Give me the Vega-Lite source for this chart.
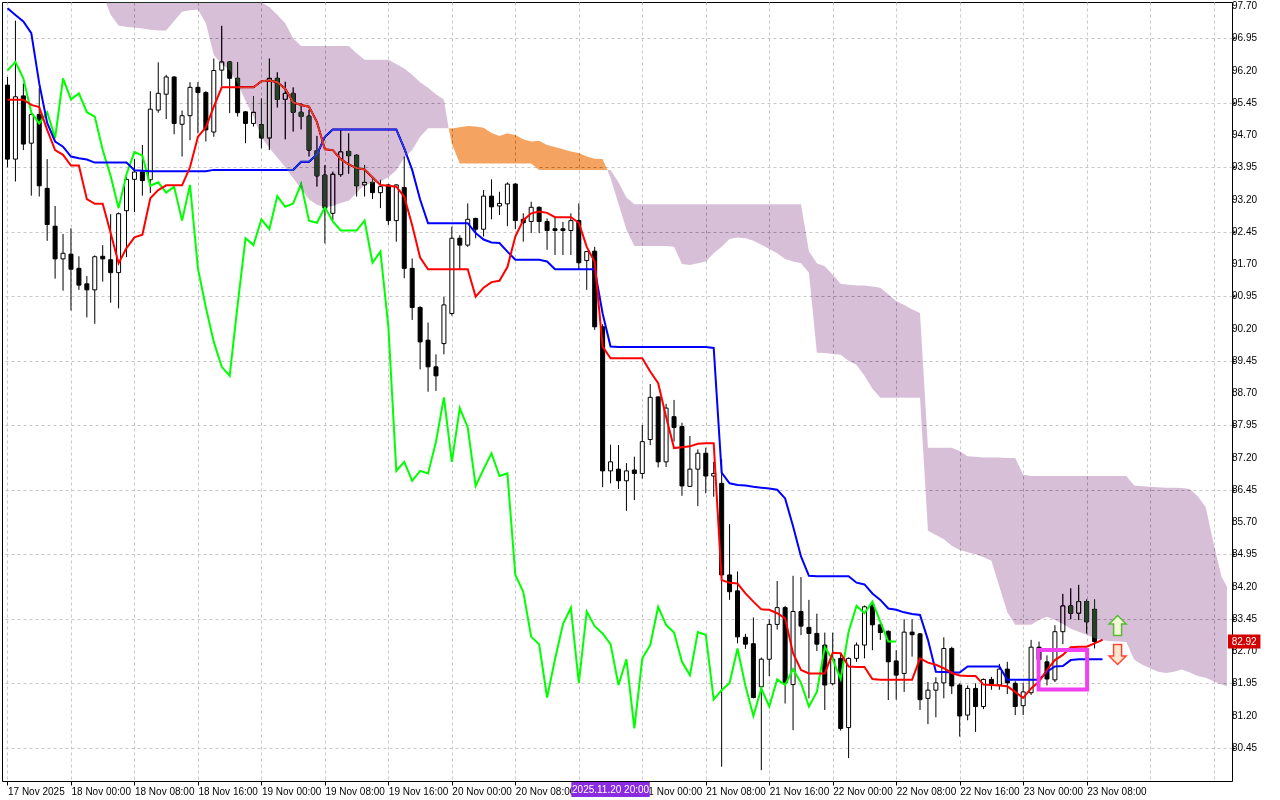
{
  "$schema": "https://vega.github.io/schema/vega-lite/v6.json",
  "width": 1230,
  "height": 779,
  "autosize": {"type": "none"},
  "padding": {"left": 2, "top": 2, "right": 48, "bottom": 19},
  "background": "#ffffff",
  "config": {
    "view": {"stroke": "#000000", "strokeWidth": 1, "fill": "#ffffff"},
    "font": "Liberation Sans",
    "axis": {"labelFont": "Liberation Sans", "labelFontSize": 10, "labelColor": "#000000", "title": null, "domain": false, "gridColor": "#c8c8c8", "gridDash": [3, 3], "gridWidth": 1, "tickColor": "#000000", "labelOverlap": false, "labelBound": false, "labelFlush": false}
  },
  "datasets": {
    "ylabels": [
      {"p":80.45},{"p":81.2},{"p":81.95},{"p":82.7},{"p":83.45},{"p":84.2},{"p":84.95},{"p":85.7},
      {"p":86.45},{"p":87.2},{"p":87.95},{"p":88.7},{"p":89.45},{"p":90.2},{"p":90.95},{"p":91.7},
      {"p":92.45},{"p":93.2},{"p":93.95},{"p":94.7},{"p":95.45},{"p":96.2},{"p":96.95},{"p":97.7}
    ],
    "candles": [
      {"k":0,"o":95.86,"h":96.05,"l":93.95,"c":94.14},
      {"k":1,"o":94.14,"h":97.36,"l":93.62,"c":95.59},
      {"k":2,"o":95.61,"h":95.90,"l":94.35,"c":94.49},
      {"k":3,"o":94.51,"h":95.20,"l":93.29,"c":95.18},
      {"k":4,"o":95.18,"h":95.79,"l":93.27,"c":93.52},
      {"k":5,"o":93.46,"h":94.14,"l":92.24,"c":92.62},
      {"k":6,"o":92.58,"h":93.05,"l":91.36,"c":91.82},
      {"k":7,"o":91.82,"h":92.40,"l":91.08,"c":91.95},
      {"k":8,"o":91.93,"h":92.53,"l":90.62,"c":91.58},
      {"k":9,"o":91.60,"h":91.88,"l":91.10,"c":91.21},
      {"k":10,"o":91.24,"h":91.42,"l":90.46,"c":91.10},
      {"k":11,"o":91.10,"h":91.90,"l":90.31,"c":91.87},
      {"k":12,"o":91.88,"h":92.14,"l":91.29,"c":91.82},
      {"k":13,"o":91.80,"h":92.86,"l":90.80,"c":91.50},
      {"k":14,"o":91.50,"h":92.90,"l":90.67,"c":92.87},
      {"k":15,"o":92.94,"h":93.75,"l":91.86,"c":93.67},
      {"k":16,"o":93.67,"h":94.14,"l":92.91,"c":93.84},
      {"k":17,"o":93.84,"h":94.47,"l":93.29,"c":93.64},
      {"k":18,"o":93.66,"h":95.72,"l":93.35,"c":95.30},
      {"k":19,"o":95.28,"h":96.39,"l":95.22,"c":95.67},
      {"k":20,"o":95.65,"h":96.10,"l":95.07,"c":96.05},
      {"k":21,"o":96.05,"h":96.07,"l":94.72,"c":94.97},
      {"k":22,"o":94.95,"h":95.27,"l":94.20,"c":95.15},
      {"k":23,"o":95.15,"h":95.93,"l":94.58,"c":95.81},
      {"k":24,"o":95.81,"h":95.93,"l":94.74,"c":95.69},
      {"k":25,"o":95.69,"h":95.72,"l":94.55,"c":94.82},
      {"k":26,"o":94.77,"h":96.48,"l":94.66,"c":96.20},
      {"k":27,"o":96.21,"h":97.24,"l":95.83,"c":96.40},
      {"k":28,"o":96.40,"h":96.41,"l":95.21,"c":96.02},
      {"k":29,"o":96.02,"h":96.40,"l":95.13,"c":95.22},
      {"k":30,"o":95.24,"h":95.26,"l":94.51,"c":94.97},
      {"k":31,"o":94.97,"h":95.60,"l":94.90,"c":95.23},
      {"k":32,"o":94.94,"h":95.55,"l":94.39,"c":94.63},
      {"k":33,"o":94.63,"h":96.48,"l":94.35,"c":96.02},
      {"k":34,"o":96.02,"h":96.16,"l":95.34,"c":95.53},
      {"k":35,"o":95.53,"h":95.94,"l":94.60,"c":95.67},
      {"k":36,"o":95.67,"h":95.81,"l":94.78,"c":95.23},
      {"k":37,"o":95.23,"h":95.44,"l":94.83,"c":95.13},
      {"k":38,"o":95.14,"h":95.29,"l":94.20,"c":94.35},
      {"k":39,"o":94.34,"h":94.68,"l":93.50,"c":93.75},
      {"k":40,"o":93.77,"h":94.00,"l":92.18,"c":93.00},
      {"k":41,"o":92.88,"h":93.85,"l":92.72,"c":93.79},
      {"k":42,"o":93.78,"h":94.82,"l":93.73,"c":94.31},
      {"k":43,"o":94.32,"h":94.74,"l":93.80,"c":94.22},
      {"k":44,"o":94.23,"h":94.25,"l":93.27,"c":93.52},
      {"k":45,"o":93.54,"h":94.00,"l":93.27,"c":93.60},
      {"k":46,"o":93.60,"h":93.69,"l":93.21,"c":93.36},
      {"k":47,"o":93.36,"h":93.66,"l":93.00,"c":93.50},
      {"k":48,"o":93.54,"h":93.56,"l":92.61,"c":92.71},
      {"k":49,"o":92.71,"h":93.56,"l":92.22,"c":93.54},
      {"k":50,"o":93.48,"h":94.20,"l":91.37,"c":91.60},
      {"k":51,"o":91.60,"h":91.83,"l":90.40,"c":90.69},
      {"k":52,"o":90.69,"h":90.72,"l":89.25,"c":89.89},
      {"k":53,"o":89.93,"h":90.34,"l":88.73,"c":89.31},
      {"k":54,"o":89.31,"h":89.60,"l":88.75,"c":89.10},
      {"k":55,"o":89.85,"h":90.94,"l":89.60,"c":90.75},
      {"k":56,"o":90.55,"h":92.57,"l":90.50,"c":92.30},
      {"k":57,"o":92.30,"h":92.37,"l":91.56,"c":92.14},
      {"k":58,"o":92.14,"h":93.11,"l":92.10,"c":92.74},
      {"k":59,"o":92.76,"h":92.78,"l":92.30,"c":92.51},
      {"k":60,"o":92.51,"h":93.42,"l":92.34,"c":93.28},
      {"k":61,"o":93.28,"h":93.67,"l":92.74,"c":93.03},
      {"k":62,"o":93.05,"h":93.38,"l":92.84,"c":93.11},
      {"k":63,"o":93.10,"h":93.60,"l":92.58,"c":93.56},
      {"k":64,"o":93.56,"h":93.58,"l":92.51,"c":92.71},
      {"k":65,"o":92.74,"h":92.88,"l":92.22,"c":92.66},
      {"k":66,"o":92.69,"h":93.15,"l":92.42,"c":93.02},
      {"k":67,"o":93.02,"h":93.04,"l":92.42,"c":92.69},
      {"k":68,"o":92.69,"h":92.76,"l":92.03,"c":92.48},
      {"k":69,"o":92.52,"h":92.80,"l":91.91,"c":92.48},
      {"k":70,"o":92.52,"h":92.68,"l":91.91,"c":92.48},
      {"k":71,"o":92.48,"h":92.88,"l":91.91,"c":92.71},
      {"k":72,"o":92.71,"h":93.11,"l":91.56,"c":91.73},
      {"k":73,"o":91.78,"h":92.00,"l":91.10,"c":91.99},
      {"k":74,"o":92.00,"h":92.10,"l":90.17,"c":90.24},
      {"k":75,"o":90.24,"h":90.30,"l":86.51,"c":86.89},
      {"k":76,"o":86.89,"h":87.50,"l":86.60,"c":87.10},
      {"k":77,"o":86.93,"h":87.49,"l":86.47,"c":86.66},
      {"k":78,"o":86.66,"h":87.07,"l":85.96,"c":86.89},
      {"k":79,"o":86.91,"h":87.22,"l":86.21,"c":86.83},
      {"k":80,"o":86.83,"h":87.96,"l":86.71,"c":87.57},
      {"k":81,"o":87.62,"h":88.91,"l":87.49,"c":88.60},
      {"k":82,"o":88.61,"h":88.62,"l":86.97,"c":87.10},
      {"k":83,"o":87.10,"h":88.45,"l":86.98,"c":88.35},
      {"k":84,"o":88.15,"h":88.54,"l":87.57,"c":87.90},
      {"k":85,"o":87.92,"h":88.01,"l":86.31,"c":86.54},
      {"k":86,"o":86.53,"h":87.70,"l":86.52,"c":86.93},
      {"k":87,"o":86.93,"h":87.39,"l":86.07,"c":87.30},
      {"k":88,"o":87.30,"h":87.43,"l":86.37,"c":86.77},
      {"k":89,"o":86.77,"h":87.10,"l":86.29,"c":86.83},
      {"k":90,"o":86.60,"h":87.16,"l":80.01,"c":84.47},
      {"k":91,"o":84.47,"h":85.65,"l":83.89,"c":84.08},
      {"k":92,"o":84.10,"h":84.55,"l":82.88,"c":83.03},
      {"k":93,"o":83.02,"h":83.10,"l":82.75,"c":82.86},
      {"k":94,"o":82.87,"h":83.48,"l":81.60,"c":81.62},
      {"k":95,"o":81.87,"h":82.55,"l":79.93,"c":82.51},
      {"k":96,"o":82.51,"h":83.44,"l":82.12,"c":83.32},
      {"k":97,"o":83.32,"h":84.33,"l":83.20,"c":83.71},
      {"k":98,"o":83.71,"h":83.75,"l":81.48,"c":81.96},
      {"k":99,"o":81.92,"h":84.45,"l":80.86,"c":83.62},
      {"k":100,"o":83.62,"h":84.42,"l":83.07,"c":83.28},
      {"k":101,"o":83.25,"h":83.89,"l":81.60,"c":83.11},
      {"k":102,"o":83.11,"h":83.57,"l":82.70,"c":82.86},
      {"k":103,"o":82.84,"h":83.13,"l":81.33,"c":81.91},
      {"k":104,"o":81.94,"h":83.13,"l":81.90,"c":82.51},
      {"k":105,"o":82.53,"h":82.65,"l":80.85,"c":80.90},
      {"k":106,"o":80.92,"h":82.55,"l":80.21,"c":82.53},
      {"k":107,"o":82.53,"h":82.90,"l":82.45,"c":82.84},
      {"k":108,"o":82.84,"h":83.76,"l":82.53,"c":83.73},
      {"k":109,"o":83.77,"h":83.85,"l":82.72,"c":83.31},
      {"k":110,"o":83.31,"h":83.35,"l":82.96,"c":83.13},
      {"k":111,"o":83.16,"h":83.18,"l":81.56,"c":82.45},
      {"k":112,"o":82.47,"h":82.72,"l":81.57,"c":82.14},
      {"k":113,"o":82.18,"h":83.44,"l":81.75,"c":83.14},
      {"k":114,"o":83.14,"h":83.44,"l":82.57,"c":83.08},
      {"k":115,"o":83.10,"h":83.12,"l":81.33,"c":81.57},
      {"k":116,"o":81.60,"h":81.98,"l":81.00,"c":81.79},
      {"k":117,"o":81.79,"h":82.09,"l":81.16,"c":81.96},
      {"k":118,"o":81.96,"h":83.02,"l":81.60,"c":82.76},
      {"k":119,"o":82.76,"h":82.80,"l":81.70,"c":81.89},
      {"k":120,"o":81.91,"h":81.95,"l":80.71,"c":81.19},
      {"k":121,"o":81.21,"h":81.90,"l":81.09,"c":81.83},
      {"k":122,"o":81.83,"h":81.95,"l":80.82,"c":81.41},
      {"k":123,"o":81.41,"h":82.06,"l":81.35,"c":82.04},
      {"k":124,"o":82.04,"h":82.10,"l":81.80,"c":81.91},
      {"k":125,"o":81.91,"h":82.40,"l":81.80,"c":82.28},
      {"k":126,"o":82.28,"h":82.45,"l":81.70,"c":81.96},
      {"k":127,"o":81.95,"h":82.00,"l":81.21,"c":81.41},
      {"k":128,"o":81.43,"h":81.96,"l":81.21,"c":81.75},
      {"k":129,"o":81.73,"h":82.96,"l":81.68,"c":82.79},
      {"k":130,"o":82.79,"h":82.92,"l":82.30,"c":82.50},
      {"k":131,"o":82.45,"h":82.60,"l":81.90,"c":82.05},
      {"k":132,"o":82.03,"h":83.30,"l":81.98,"c":83.15},
      {"k":133,"o":83.15,"h":84.03,"l":82.86,"c":83.75},
      {"k":134,"o":83.75,"h":84.16,"l":83.44,"c":83.58},
      {"k":135,"o":83.58,"h":84.24,"l":83.42,"c":83.85},
      {"k":136,"o":83.85,"h":83.90,"l":83.11,"c":83.38},
      {"k":137,"o":83.67,"h":83.90,"l":82.76,"c":82.92}
    ],
    "ichimoku": [
      {"k":0,"t":95.52,"kj":97.65,"ch":96.20},
      {"k":1,"t":95.52,"kj":97.49,"ch":96.40},
      {"k":2,"t":95.52,"kj":97.34,"ch":96.02},
      {"k":3,"t":95.40,"kj":97.07,"ch":95.22},
      {"k":4,"t":95.35,"kj":95.90,"ch":94.97},
      {"k":5,"t":94.82,"kj":94.98,"ch":95.23},
      {"k":6,"t":94.35,"kj":94.55,"ch":94.63},
      {"k":7,"t":94.24,"kj":94.43,"ch":96.02},
      {"k":8,"t":93.99,"kj":94.20,"ch":95.53},
      {"k":9,"t":93.99,"kj":94.16,"ch":95.67},
      {"k":10,"t":93.21,"kj":94.13,"ch":95.23},
      {"k":11,"t":93.10,"kj":94.06,"ch":95.13},
      {"k":12,"t":93.10,"kj":94.06,"ch":94.35},
      {"k":13,"t":92.42,"kj":94.06,"ch":93.75},
      {"k":14,"t":91.72,"kj":94.06,"ch":93.00},
      {"k":15,"t":92.07,"kj":94.06,"ch":93.79},
      {"k":16,"t":92.32,"kj":93.88,"ch":94.31},
      {"k":17,"t":92.38,"kj":93.87,"ch":94.22},
      {"k":18,"t":93.23,"kj":93.86,"ch":93.52},
      {"k":19,"t":93.42,"kj":93.86,"ch":93.60},
      {"k":20,"t":93.53,"kj":93.86,"ch":93.36},
      {"k":21,"t":93.53,"kj":93.86,"ch":93.50},
      {"k":22,"t":93.53,"kj":93.86,"ch":92.71},
      {"k":23,"t":93.95,"kj":93.86,"ch":93.54},
      {"k":24,"t":94.66,"kj":93.86,"ch":91.60},
      {"k":25,"t":94.88,"kj":93.86,"ch":90.69},
      {"k":26,"t":95.36,"kj":93.89,"ch":89.89},
      {"k":27,"t":95.81,"kj":93.89,"ch":89.31},
      {"k":28,"t":95.81,"kj":93.89,"ch":89.10},
      {"k":29,"t":95.81,"kj":93.89,"ch":90.75},
      {"k":30,"t":95.81,"kj":93.89,"ch":92.30},
      {"k":31,"t":95.81,"kj":93.89,"ch":92.14},
      {"k":32,"t":95.95,"kj":93.89,"ch":92.74},
      {"k":33,"t":95.97,"kj":93.89,"ch":92.51},
      {"k":34,"t":95.93,"kj":93.89,"ch":93.28},
      {"k":35,"t":95.78,"kj":93.89,"ch":93.03},
      {"k":36,"t":95.46,"kj":93.89,"ch":93.11},
      {"k":37,"t":95.40,"kj":94.08,"ch":93.56},
      {"k":38,"t":95.36,"kj":94.08,"ch":92.71},
      {"k":39,"t":95.00,"kj":94.25,"ch":92.66},
      {"k":40,"t":94.37,"kj":94.66,"ch":93.02},
      {"k":41,"t":94.35,"kj":94.83,"ch":92.69},
      {"k":42,"t":94.14,"kj":94.83,"ch":92.48},
      {"k":43,"t":94.02,"kj":94.83,"ch":92.48},
      {"k":44,"t":93.93,"kj":94.83,"ch":92.48},
      {"k":45,"t":93.90,"kj":94.83,"ch":92.71},
      {"k":46,"t":93.72,"kj":94.83,"ch":91.73},
      {"k":47,"t":93.54,"kj":94.83,"ch":91.99},
      {"k":48,"t":93.52,"kj":94.83,"ch":90.24},
      {"k":49,"t":93.50,"kj":94.83,"ch":86.89},
      {"k":50,"t":93.27,"kj":94.39,"ch":87.10},
      {"k":51,"t":92.60,"kj":93.89,"ch":86.66},
      {"k":52,"t":91.85,"kj":93.20,"ch":86.89},
      {"k":53,"t":91.58,"kj":92.65,"ch":86.83},
      {"k":54,"t":91.58,"kj":92.65,"ch":87.57},
      {"k":55,"t":91.58,"kj":92.65,"ch":88.60},
      {"k":56,"t":91.58,"kj":92.65,"ch":87.10},
      {"k":57,"t":91.58,"kj":92.65,"ch":88.35},
      {"k":58,"t":91.58,"kj":92.65,"ch":87.90},
      {"k":59,"t":90.94,"kj":92.42,"ch":86.54},
      {"k":60,"t":91.15,"kj":92.27,"ch":86.93},
      {"k":61,"t":91.28,"kj":92.20,"ch":87.30},
      {"k":62,"t":91.31,"kj":92.19,"ch":86.77},
      {"k":63,"t":91.63,"kj":91.99,"ch":86.83},
      {"k":64,"t":92.34,"kj":91.80,"ch":84.47},
      {"k":65,"t":92.72,"kj":91.80,"ch":84.08},
      {"k":66,"t":92.88,"kj":91.80,"ch":83.03},
      {"k":67,"t":92.92,"kj":91.80,"ch":82.86},
      {"k":68,"t":92.89,"kj":91.76,"ch":81.62},
      {"k":69,"t":92.79,"kj":91.58,"ch":82.51},
      {"k":70,"t":92.79,"kj":91.58,"ch":83.32},
      {"k":71,"t":92.79,"kj":91.58,"ch":83.71},
      {"k":72,"t":92.66,"kj":91.58,"ch":81.96},
      {"k":73,"t":92.10,"kj":91.58,"ch":83.62},
      {"k":74,"t":91.75,"kj":91.58,"ch":83.28},
      {"k":75,"t":89.78,"kj":90.55,"ch":83.11},
      {"k":76,"t":89.51,"kj":89.78,"ch":82.86},
      {"k":77,"t":89.51,"kj":89.77,"ch":81.91},
      {"k":78,"t":89.51,"kj":89.77,"ch":82.51},
      {"k":79,"t":89.51,"kj":89.77,"ch":80.90},
      {"k":80,"t":89.51,"kj":89.77,"ch":82.53},
      {"k":81,"t":89.20,"kj":89.77,"ch":82.84},
      {"k":82,"t":88.93,"kj":89.77,"ch":83.73},
      {"k":83,"t":88.15,"kj":89.77,"ch":83.31},
      {"k":84,"t":87.42,"kj":89.77,"ch":83.13},
      {"k":85,"t":87.44,"kj":89.77,"ch":82.45},
      {"k":86,"t":87.46,"kj":89.77,"ch":82.14},
      {"k":87,"t":87.52,"kj":89.77,"ch":83.14},
      {"k":88,"t":87.53,"kj":89.77,"ch":83.08},
      {"k":89,"t":87.53,"kj":89.75,"ch":81.57},
      {"k":90,"t":84.35,"kj":86.85,"ch":81.79},
      {"k":91,"t":84.29,"kj":86.60,"ch":81.96},
      {"k":92,"t":84.27,"kj":86.56,"ch":82.76},
      {"k":93,"t":84.04,"kj":86.55,"ch":81.89},
      {"k":94,"t":83.85,"kj":86.52,"ch":81.19},
      {"k":95,"t":83.67,"kj":86.50,"ch":81.83},
      {"k":96,"t":83.66,"kj":86.48,"ch":81.41},
      {"k":97,"t":83.58,"kj":86.45,"ch":82.04},
      {"k":98,"t":83.46,"kj":86.25,"ch":81.91},
      {"k":99,"t":82.65,"kj":85.60,"ch":82.28},
      {"k":100,"t":82.26,"kj":84.90,"ch":81.96},
      {"k":101,"t":82.18,"kj":84.45,"ch":81.41},
      {"k":102,"t":82.18,"kj":84.44,"ch":81.75},
      {"k":103,"t":82.18,"kj":84.44,"ch":82.79},
      {"k":104,"t":82.66,"kj":84.44,"ch":82.50},
      {"k":105,"t":82.65,"kj":84.44,"ch":82.05},
      {"k":106,"t":82.34,"kj":84.44,"ch":83.15},
      {"k":107,"t":82.33,"kj":84.29,"ch":83.75},
      {"k":108,"t":82.33,"kj":84.25,"ch":83.58},
      {"k":109,"t":82.05,"kj":84.04,"ch":83.85},
      {"k":110,"t":82.03,"kj":83.89,"ch":83.38},
      {"k":111,"t":82.03,"kj":83.69,"ch":82.92},
      {"k":112,"t":82.03,"kj":83.66,"ch":82.92},
      {"k":113,"t":82.03,"kj":83.60},
      {"k":114,"t":82.03,"kj":83.56},
      {"k":115,"t":82.53,"kj":83.54},
      {"k":116,"t":82.43,"kj":82.96},
      {"k":117,"t":82.38,"kj":82.22},
      {"k":118,"t":82.30,"kj":82.21},
      {"k":119,"t":82.19,"kj":82.20},
      {"k":120,"t":82.13,"kj":82.20},
      {"k":121,"t":82.12,"kj":82.34},
      {"k":122,"t":82.12,"kj":82.34},
      {"k":123,"t":81.92,"kj":82.34},
      {"k":124,"t":81.91,"kj":82.34},
      {"k":125,"t":81.90,"kj":82.34},
      {"k":126,"t":81.88,"kj":82.03},
      {"k":127,"t":81.75,"kj":82.03},
      {"k":128,"t":81.61,"kj":82.03},
      {"k":129,"t":81.83,"kj":82.03},
      {"k":130,"t":81.99,"kj":82.03},
      {"k":131,"t":82.26,"kj":82.22},
      {"k":132,"t":82.49,"kj":82.34},
      {"k":133,"t":82.61,"kj":82.35},
      {"k":134,"t":82.79,"kj":82.49},
      {"k":135,"t":82.80,"kj":82.51},
      {"k":136,"t":82.80,"kj":82.51},
      {"k":137,"t":82.88,"kj":82.51},
      {"k":138,"t":82.96,"kj":82.51}
    ],
    "cloud": [
      {"k":12.4,"lo":97.79,"hi":97.79,"trend":"bear","part":"b1"},
      {"k":13,"lo":97.5,"hi":97.79,"trend":"bear","part":"b1"},
      {"k":14,"lo":97.25,"hi":97.79,"trend":"bear","part":"b1"},
      {"k":15,"lo":97.21,"hi":97.79,"trend":"bear","part":"b1"},
      {"k":16,"lo":97.2,"hi":97.79,"trend":"bear","part":"b1"},
      {"k":17,"lo":97.18,"hi":97.79,"trend":"bear","part":"b1"},
      {"k":18,"lo":97.15,"hi":97.79,"trend":"bear","part":"b1"},
      {"k":19,"lo":97.13,"hi":97.79,"trend":"bear","part":"b1"},
      {"k":20,"lo":97.13,"hi":97.79,"trend":"bear","part":"b1"},
      {"k":21,"lo":97.35,"hi":97.79,"trend":"bear","part":"b1"},
      {"k":22,"lo":97.57,"hi":97.79,"trend":"bear","part":"b1"},
      {"k":23,"lo":97.6,"hi":97.79,"trend":"bear","part":"b1"},
      {"k":24,"lo":97.62,"hi":97.79,"trend":"bear","part":"b1"},
      {"k":25,"lo":97.3,"hi":97.79,"trend":"bear","part":"b1"},
      {"k":26,"lo":96.56,"hi":97.79,"trend":"bear","part":"b1"},
      {"k":27,"lo":96.35,"hi":97.79,"trend":"bear","part":"b1"},
      {"k":28,"lo":96.2,"hi":97.79,"trend":"bear","part":"b1"},
      {"k":29,"lo":95.9,"hi":97.79,"trend":"bear","part":"b1"},
      {"k":30,"lo":95.5,"hi":97.79,"trend":"bear","part":"b1"},
      {"k":31,"lo":95.13,"hi":97.79,"trend":"bear","part":"b1"},
      {"k":32,"lo":94.65,"hi":97.79,"trend":"bear","part":"b1"},
      {"k":33,"lo":94.4,"hi":97.68,"trend":"bear","part":"b1"},
      {"k":34,"lo":94.18,"hi":97.5,"trend":"bear","part":"b1"},
      {"k":35,"lo":93.95,"hi":97.3,"trend":"bear","part":"b1"},
      {"k":36,"lo":93.7,"hi":96.95,"trend":"bear","part":"b1"},
      {"k":37,"lo":93.45,"hi":96.77,"trend":"bear","part":"b1"},
      {"k":38,"lo":93.2,"hi":96.77,"trend":"bear","part":"b1"},
      {"k":39,"lo":93.08,"hi":96.77,"trend":"bear","part":"b1"},
      {"k":40,"lo":93.02,"hi":96.77,"trend":"bear","part":"b1"},
      {"k":41,"lo":93.05,"hi":96.77,"trend":"bear","part":"b1"},
      {"k":42,"lo":93.12,"hi":96.77,"trend":"bear","part":"b1"},
      {"k":43,"lo":93.17,"hi":96.77,"trend":"bear","part":"b1"},
      {"k":44,"lo":93.35,"hi":96.6,"trend":"bear","part":"b1"},
      {"k":45,"lo":93.55,"hi":96.45,"trend":"bear","part":"b1"},
      {"k":46,"lo":93.58,"hi":96.45,"trend":"bear","part":"b1"},
      {"k":47,"lo":93.62,"hi":96.45,"trend":"bear","part":"b1"},
      {"k":48,"lo":93.72,"hi":96.45,"trend":"bear","part":"b1"},
      {"k":49,"lo":93.88,"hi":96.35,"trend":"bear","part":"b1"},
      {"k":50,"lo":94.18,"hi":96.25,"trend":"bear","part":"b1"},
      {"k":51,"lo":94.35,"hi":96.1,"trend":"bear","part":"b1"},
      {"k":52,"lo":94.66,"hi":95.93,"trend":"bear","part":"b1"},
      {"k":53,"lo":94.86,"hi":95.8,"trend":"bear","part":"b1"},
      {"k":54,"lo":94.86,"hi":95.65,"trend":"bear","part":"b1"},
      {"k":55,"lo":94.86,"hi":95.52,"trend":"bear","part":"b1"},
      {"k":55.6,"lo":94.86,"hi":94.86,"trend":"bear","part":"b1"},
      {"k":55.6,"lo":94.86,"hi":94.86,"trend":"bull","part":"u"},
      {"k":56,"lo":94.5,"hi":94.85,"trend":"bull","part":"u"},
      {"k":57,"lo":94.04,"hi":94.88,"trend":"bull","part":"u"},
      {"k":58,"lo":94.04,"hi":94.91,"trend":"bull","part":"u"},
      {"k":59,"lo":94.04,"hi":94.9,"trend":"bull","part":"u"},
      {"k":60,"lo":94.04,"hi":94.87,"trend":"bull","part":"u"},
      {"k":61,"lo":94.04,"hi":94.75,"trend":"bull","part":"u"},
      {"k":62,"lo":94.04,"hi":94.68,"trend":"bull","part":"u"},
      {"k":63,"lo":94.04,"hi":94.74,"trend":"bull","part":"u"},
      {"k":64,"lo":94.04,"hi":94.7,"trend":"bull","part":"u"},
      {"k":65,"lo":94.04,"hi":94.6,"trend":"bull","part":"u"},
      {"k":66,"lo":94.04,"hi":94.55,"trend":"bull","part":"u"},
      {"k":67,"lo":93.89,"hi":94.57,"trend":"bull","part":"u"},
      {"k":68,"lo":93.89,"hi":94.47,"trend":"bull","part":"u"},
      {"k":69,"lo":93.89,"hi":94.42,"trend":"bull","part":"u"},
      {"k":70,"lo":93.89,"hi":94.37,"trend":"bull","part":"u"},
      {"k":71,"lo":93.89,"hi":94.32,"trend":"bull","part":"u"},
      {"k":72,"lo":93.89,"hi":94.28,"trend":"bull","part":"u"},
      {"k":73,"lo":93.89,"hi":94.2,"trend":"bull","part":"u"},
      {"k":74,"lo":93.89,"hi":94.15,"trend":"bull","part":"u"},
      {"k":75,"lo":93.89,"hi":94.14,"trend":"bull","part":"u"},
      {"k":75.6,"lo":93.89,"hi":93.89,"trend":"bull","part":"u"},
      {"k":75.6,"lo":93.89,"hi":93.89,"trend":"bear","part":"b2"},
      {"k":76,"lo":93.7,"hi":93.89,"trend":"bear","part":"b2"},
      {"k":77,"lo":93.1,"hi":93.6,"trend":"bear","part":"b2"},
      {"k":78,"lo":92.5,"hi":93.25,"trend":"bear","part":"b2"},
      {"k":79,"lo":92.12,"hi":93.09,"trend":"bear","part":"b2"},
      {"k":80,"lo":92.12,"hi":93.09,"trend":"bear","part":"b2"},
      {"k":81,"lo":92.12,"hi":93.09,"trend":"bear","part":"b2"},
      {"k":82,"lo":92.12,"hi":93.09,"trend":"bear","part":"b2"},
      {"k":83,"lo":92.12,"hi":93.09,"trend":"bear","part":"b2"},
      {"k":84,"lo":92.1,"hi":93.09,"trend":"bear","part":"b2"},
      {"k":85,"lo":91.7,"hi":93.09,"trend":"bear","part":"b2"},
      {"k":86,"lo":91.68,"hi":93.09,"trend":"bear","part":"b2"},
      {"k":87,"lo":91.72,"hi":93.09,"trend":"bear","part":"b2"},
      {"k":88,"lo":91.76,"hi":93.09,"trend":"bear","part":"b2"},
      {"k":89,"lo":91.95,"hi":93.09,"trend":"bear","part":"b2"},
      {"k":90,"lo":92.1,"hi":93.09,"trend":"bear","part":"b2"},
      {"k":91,"lo":92.28,"hi":93.09,"trend":"bear","part":"b2"},
      {"k":92,"lo":92.32,"hi":93.09,"trend":"bear","part":"b2"},
      {"k":93,"lo":92.3,"hi":93.09,"trend":"bear","part":"b2"},
      {"k":94,"lo":92.24,"hi":93.09,"trend":"bear","part":"b2"},
      {"k":95,"lo":92.15,"hi":93.09,"trend":"bear","part":"b2"},
      {"k":96,"lo":92.05,"hi":93.09,"trend":"bear","part":"b2"},
      {"k":97,"lo":91.95,"hi":93.09,"trend":"bear","part":"b2"},
      {"k":98,"lo":91.82,"hi":93.09,"trend":"bear","part":"b2"},
      {"k":99,"lo":91.76,"hi":93.09,"trend":"bear","part":"b2"},
      {"k":100,"lo":91.72,"hi":93.09,"trend":"bear","part":"b2"},
      {"k":101,"lo":91.5,"hi":92.0,"trend":"bear","part":"b2"},
      {"k":102,"lo":89.64,"hi":91.72,"trend":"bear","part":"b2"},
      {"k":103,"lo":89.63,"hi":91.65,"trend":"bear","part":"b2"},
      {"k":104,"lo":89.61,"hi":91.45,"trend":"bear","part":"b2"},
      {"k":105,"lo":89.59,"hi":91.24,"trend":"bear","part":"b2"},
      {"k":106,"lo":89.45,"hi":91.22,"trend":"bear","part":"b2"},
      {"k":107,"lo":89.35,"hi":91.2,"trend":"bear","part":"b2"},
      {"k":108,"lo":89.1,"hi":91.2,"trend":"bear","part":"b2"},
      {"k":109,"lo":88.8,"hi":91.18,"trend":"bear","part":"b2"},
      {"k":110,"lo":88.59,"hi":91.15,"trend":"bear","part":"b2"},
      {"k":111,"lo":88.59,"hi":91.0,"trend":"bear","part":"b2"},
      {"k":112,"lo":88.59,"hi":90.84,"trend":"bear","part":"b2"},
      {"k":113,"lo":88.59,"hi":90.75,"trend":"bear","part":"b2"},
      {"k":114,"lo":88.59,"hi":90.65,"trend":"bear","part":"b2"},
      {"k":115,"lo":88.59,"hi":90.56,"trend":"bear","part":"b2"},
      {"k":116,"lo":85.5,"hi":87.43,"trend":"bear","part":"b2"},
      {"k":117,"lo":85.4,"hi":87.43,"trend":"bear","part":"b2"},
      {"k":118,"lo":85.3,"hi":87.43,"trend":"bear","part":"b2"},
      {"k":119,"lo":85.15,"hi":87.43,"trend":"bear","part":"b2"},
      {"k":120,"lo":85.05,"hi":87.35,"trend":"bear","part":"b2"},
      {"k":121,"lo":85.0,"hi":87.23,"trend":"bear","part":"b2"},
      {"k":122,"lo":84.95,"hi":87.22,"trend":"bear","part":"b2"},
      {"k":123,"lo":84.88,"hi":87.2,"trend":"bear","part":"b2"},
      {"k":124,"lo":84.8,"hi":87.2,"trend":"bear","part":"b2"},
      {"k":125,"lo":84.2,"hi":87.2,"trend":"bear","part":"b2"},
      {"k":126,"lo":83.6,"hi":87.19,"trend":"bear","part":"b2"},
      {"k":127,"lo":83.31,"hi":87.19,"trend":"bear","part":"b2"},
      {"k":128,"lo":83.31,"hi":86.8,"trend":"bear","part":"b2"},
      {"k":129,"lo":83.31,"hi":86.77,"trend":"bear","part":"b2"},
      {"k":130,"lo":83.42,"hi":86.77,"trend":"bear","part":"b2"},
      {"k":131,"lo":83.5,"hi":86.77,"trend":"bear","part":"b2"},
      {"k":132,"lo":83.42,"hi":86.77,"trend":"bear","part":"b2"},
      {"k":133,"lo":83.33,"hi":86.77,"trend":"bear","part":"b2"},
      {"k":134,"lo":83.22,"hi":86.77,"trend":"bear","part":"b2"},
      {"k":135,"lo":83.15,"hi":86.77,"trend":"bear","part":"b2"},
      {"k":136,"lo":83.08,"hi":86.77,"trend":"bear","part":"b2"},
      {"k":137,"lo":83.0,"hi":86.77,"trend":"bear","part":"b2"},
      {"k":138,"lo":82.95,"hi":86.77,"trend":"bear","part":"b2"},
      {"k":139,"lo":82.93,"hi":86.77,"trend":"bear","part":"b2"},
      {"k":140,"lo":82.92,"hi":86.77,"trend":"bear","part":"b2"},
      {"k":141,"lo":82.91,"hi":86.77,"trend":"bear","part":"b2"},
      {"k":142,"lo":82.5,"hi":86.55,"trend":"bear","part":"b2"},
      {"k":143,"lo":82.38,"hi":86.53,"trend":"bear","part":"b2"},
      {"k":144,"lo":82.3,"hi":86.52,"trend":"bear","part":"b2"},
      {"k":145,"lo":82.22,"hi":86.51,"trend":"bear","part":"b2"},
      {"k":146,"lo":82.19,"hi":86.5,"trend":"bear","part":"b2"},
      {"k":147,"lo":82.22,"hi":86.5,"trend":"bear","part":"b2"},
      {"k":148,"lo":82.27,"hi":86.49,"trend":"bear","part":"b2"},
      {"k":149,"lo":82.2,"hi":86.47,"trend":"bear","part":"b2"},
      {"k":150,"lo":82.12,"hi":86.3,"trend":"bear","part":"b2"},
      {"k":151,"lo":82.08,"hi":86.05,"trend":"bear","part":"b2"},
      {"k":152,"lo":82.0,"hi":85.2,"trend":"bear","part":"b2"},
      {"k":153,"lo":81.92,"hi":84.43,"trend":"bear","part":"b2"},
      {"k":153.68,"lo":81.88,"hi":84.2,"trend":"bear","part":"b2"}
    ]
  },
  "layer": [
    {
      "data": {"name": "candles"},
      "mark": {"type": "rule", "color": "#000000", "strokeWidth": 1},
      "encoding": {
        "x": {
          "field": "k", "type": "quantitative",
          "scale": {"domain": [-0.0625, 153.6875], "nice": false, "zero": false},
          "axis": {
            "orient": "bottom",
            "values": [0,4,8,12,16,20,24,28,32,36,40,44,48,52,56,60,64,68,72,76,80,84,88,92,96,100,104,108,112,116,120,124,128,132,136,140,144,148,152],
            "grid": true,
            "labelExpr": "(datum.value % 8 != 0 || datum.value > 136 || datum.value == 72) ? '' : (datum.value == 0 ? '17 Nov 2025' : (17 + floor((16 + datum.value) / 24)) + ' Nov ' + (((16 + datum.value) % 24) < 10 ? '0' : '') + ((16 + datum.value) % 24) + ':00')",
            "labelAlign": "left",
            "labelBaseline": "top",
            "labelPadding": 1,
            "labelOverlap": false,
            "labelFlush": false,
            "labelBound": false,
            "tickSize": 4,
            "tickOpacity": {"condition": {"test": "datum.value % 8 == 0 && datum.value <= 136", "value": 1}, "value": 0}
          }
        },
        "y": {
          "field": "l", "type": "quantitative",
          "scale": {"domain": [79.678, 97.794], "nice": false, "zero": false},
          "axis": {
            "orient": "right",
            "values": [80.45,81.2,81.95,82.7,83.45,84.2,84.95,85.7,86.45,87.2,87.95,88.7,89.45,90.2,90.95,91.7,92.45,93.2,93.95,94.7,95.45,96.2,96.95,97.7],
            "labels": false,
            "grid": true,
            "tickSize": 3
          }
        },
        "y2": {"field": "h"}
      }
    },
    {
      "data": {"name": "candles"},
      "mark": {"type": "bar", "width": 4, "stroke": "#000000", "strokeWidth": 1},
      "encoding": {
        "x": {"field": "k", "type": "quantitative"},
        "y": {"field": "o", "type": "quantitative"},
        "y2": {"field": "c"},
        "fill": {"condition": {"test": "datum.c >= datum.o", "value": "#ffffff"}, "value": "#000000"}
      }
    },
    {
      "data": {"name": "ichimoku"},
      "mark": {"type": "line", "color": "#00ff00", "strokeWidth": 2},
      "encoding": {
        "x": {"field": "k", "type": "quantitative"},
        "y": {"field": "ch", "type": "quantitative"}
      }
    },
    {
      "data": {"name": "ichimoku"},
      "mark": {"type": "line", "color": "#0000ff", "strokeWidth": 2},
      "encoding": {
        "x": {"field": "k", "type": "quantitative"},
        "y": {"field": "kj", "type": "quantitative"}
      }
    },
    {
      "data": {"name": "ichimoku"},
      "mark": {"type": "line", "color": "#ff0000", "strokeWidth": 2},
      "encoding": {
        "x": {"field": "k", "type": "quantitative"},
        "y": {"field": "t", "type": "quantitative"}
      }
    },
    {
      "data": {"name": "cloud"},
      "mark": {"type": "area", "blend": "difference", "interpolate": "linear"},
      "encoding": {
        "x": {"field": "k", "type": "quantitative"},
        "y": {"field": "lo", "type": "quantitative"},
        "y2": {"field": "hi"},
        "color": {"field": "trend", "type": "nominal", "scale": {"domain": ["bear", "bull"], "range": ["#274027", "#0b5b9f"]}, "legend": null},
        "detail": {"field": "part", "type": "nominal"}
      }
    },
    {
      "mark": {"type": "rule", "color": "#a01515", "strokeWidth": 1},
      "encoding": {"y": {"datum": 82.92, "type": "quantitative"}}
    },
    {
      "mark": {"type": "rule", "color": "#8a2be2", "strokeWidth": 4},
      "encoding": {"x": {"datum": 76, "type": "quantitative"}}
    },
    {
      "data": {"values": [{"k1": 129.94, "k2": 136.06, "p1": 81.806, "p2": 82.725}]},
      "mark": {"type": "rect", "fillOpacity": 0, "stroke": "#f040f0", "strokeWidth": 4},
      "encoding": {
        "x": {"field": "k1", "type": "quantitative"},
        "x2": {"field": "k2"},
        "y": {"field": "p1", "type": "quantitative"},
        "y2": {"field": "p2"}
      }
    },
    {
      "data": {"values": [{"k": 139.9, "p": 83.294}]},
      "mark": {"type": "point", "shape": "M0,-1L0.85,-0.15L0.4,-0.15L0.4,1L-0.4,1L-0.4,-0.15L-0.85,-0.15Z", "size": 400, "filled": true, "fill": "#f3f7d8", "stroke": "#55bb33", "strokeWidth": 1.5, "opacity": 1},
      "encoding": {
        "x": {"field": "k", "type": "quantitative"},
        "y": {"field": "p", "type": "quantitative"}
      }
    },
    {
      "data": {"values": [{"k": 139.9, "p": 82.62}]},
      "mark": {"type": "point", "shape": "M0,1L0.85,0.15L0.4,0.15L0.4,-1L-0.4,-1L-0.4,0.15L-0.85,0.15Z", "size": 400, "filled": true, "fill": "#ffe6cc", "stroke": "#ff4433", "strokeWidth": 1.5, "opacity": 1},
      "encoding": {
        "x": {"field": "k", "type": "quantitative"},
        "y": {"field": "p", "type": "quantitative"}
      }
    },
    {
      "data": {"name": "ylabels"},
      "mark": {"type": "text", "color": "#000000", "fontSize": 10, "font": "Liberation Sans", "align": "left", "baseline": "middle", "dx": 5},
      "encoding": {
        "x": {"datum": 153.6875, "type": "quantitative"},
        "y": {"field": "p", "type": "quantitative"},
        "text": {"field": "p", "type": "quantitative", "format": ".2f"}
      }
    },
    {
      "data": {"values": [{"k1": 153.8, "k2": 157.9, "p1": 82.757, "p2": 83.083}]},
      "mark": {"type": "rect", "fill": "#d40000"},
      "encoding": {
        "x": {"field": "k1", "type": "quantitative"},
        "x2": {"field": "k2"},
        "y": {"field": "p1", "type": "quantitative"},
        "y2": {"field": "p2"}
      }
    },
    {
      "data": {"values": [{"k": 155.85, "p": 82.92, "label": "82.92"}]},
      "mark": {"type": "text", "color": "#ffffff", "fontSize": 10, "font": "Liberation Sans", "align": "center", "baseline": "middle"},
      "encoding": {
        "x": {"field": "k", "type": "quantitative"},
        "y": {"field": "p", "type": "quantitative"},
        "text": {"field": "label"}
      }
    },
    {
      "data": {"values": [{"k1": 71.06, "k2": 80.94, "p1": 79.306, "p2": 79.655}]},
      "mark": {"type": "rect", "fill": "#8a2be2"},
      "encoding": {
        "x": {"field": "k1", "type": "quantitative"},
        "x2": {"field": "k2"},
        "y": {"field": "p1", "type": "quantitative"},
        "y2": {"field": "p2"}
      }
    },
    {
      "data": {"values": [{"k": 76, "p": 79.48, "label": "2025.11.20 20:00"}]},
      "mark": {"type": "text", "color": "#ffffff", "fontSize": 10, "font": "Liberation Sans", "align": "center", "baseline": "middle"},
      "encoding": {
        "x": {"field": "k", "type": "quantitative"},
        "y": {"field": "p", "type": "quantitative"},
        "text": {"field": "label"}
      }
    }
  ]
}
